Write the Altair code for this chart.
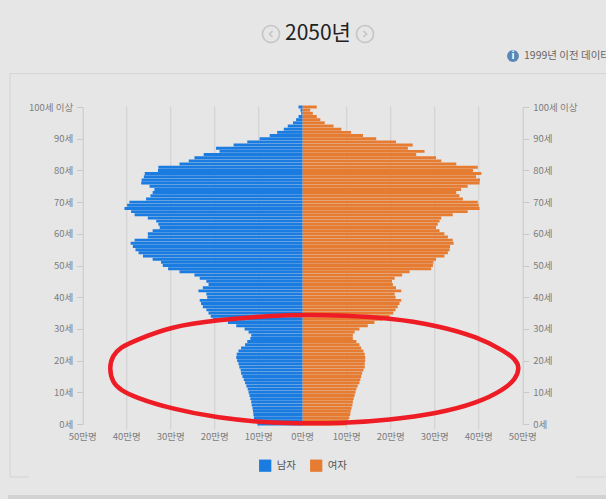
import altair as alt
import pandas as pd

FONT = "Noto Sans CJK KR"
BG = "#e6e6e6"

ages = list(range(100, -1, -1))
male = [0.95,0.5,0.35,0.95,1.5,2.2,3.4,4.3,5.8,7.5,
        9.8,12.6,15.7,19.7,18.9,22.5,24.6,25.9,28.0,32.8,
        32.9,35.9,36.1,36.6,36.7,34.8,33.7,34.1,34.6,35.6,
        39.4,39.9,40.5,39.0,38.2,35.2,33.3,32.8,32.5,34.1,
        35.2,35.2,38.2,39.1,38.6,38.0,37.3,36.3,34.1,32.2,
        31.8,30.6,28.0,24.6,23.4,21.9,21.4,22.7,23.7,21.9,
        21.7,23.4,23.1,22.7,21.9,21.4,20.9,20.4,17.0,15.1,
        13.2,12.3,11.7,11.9,12.6,13.1,14.0,14.6,15.0,15.1,
        14.9,14.6,14.4,14.1,14.0,13.7,13.4,13.1,12.8,12.5,
        12.3,12.1,11.9,11.7,11.6,11.4,11.3,11.2,11.1,11.0,
        10.3]
female = [3.2,1.7,2.3,3.2,4.0,5.0,7.0,8.8,11.0,13.7,
          16.7,21.2,25.0,23.9,27.7,25.8,30.3,31.5,34.9,39.8,
          38.7,40.6,39.4,40.3,40.2,37.5,36.0,34.9,35.6,36.4,
          39.8,40.0,40.2,37.5,34.1,31.5,31.1,30.7,30.3,31.1,
          32.2,33.0,34.1,34.3,33.5,33.4,33.0,32.2,30.3,29.7,
          29.6,29.2,24.3,22.6,20.9,20.3,20.5,21.2,22.4,20.9,
          21.1,22.4,22.0,21.6,21.1,20.6,19.7,18.2,16.3,14.8,
          12.9,11.8,11.4,11.4,12.2,12.9,13.3,13.8,14.1,14.2,
          14.2,14.1,14.1,13.8,13.5,13.3,13.1,12.9,12.5,12.2,
          12.0,11.8,11.6,11.4,11.3,11.1,10.9,10.8,10.6,10.3,
          9.9]
ring_x = [-44.0,-43.2,-41.4,-38.3,-29.9,-19.2,-7.8,1.9,9.0,19.7,30.3,39.9,45.8,48.4,
          49.3,48.4,45.8,39.9,30.3,19.7,9.2,-1.5,-7.8,-19.2,-29.9,-38.3,-41.4,-43.2]
ring_y = [17.7,21.6,24.2,26.2,30.8,32.8,34.2,34.5,34.2,33.4,31.2,27.4,23.0,20.4,
          17.7,14.2,10.9,6.7,3.2,1.3,0.2,0.2,0.4,1.9,4.8,8.5,10.8,13.0]
x_ticks = [-50,-40,-30,-20,-10,0,10,20,30,40,50]
x_labels = ["50만명","40만명","30만명","20만명","10만명","0만명","10만명","20만명","30만명","40만명","50만명"]
grid_ticks = [-40,-30,-20,-10,10,20,30,40]
y_ticks = list(range(0, 101, 10))
series = ["남자", "여자"]
colors = ["#1a7be0", "#e67c32"]

df_m = pd.DataFrame({"age": ages, "v": [-m for m in male], "sex": series[0]})
df_f = pd.DataFrame({"age": ages, "v": female, "sex": series[1]})
df_r = pd.DataFrame({"x": ring_x, "y": ring_y, "o": list(range(len(ring_x)))})
df_t = pd.DataFrame({"x": x_ticks, "label": x_labels})
df_g = pd.DataFrame({"x": grid_ticks})

x_scale = alt.Scale(domain=[-50, 50], nice=False, padding=0)
y_scale = alt.Scale(domain=[0, 100], nice=False, padding=0)
def y_axis(orient):
    return alt.Axis(orient=orient, values=y_ticks, title=None, grid=False,
                    labelExpr="datum.value == 100 ? '100세 이상' : datum.value + '세'",
                    domainColor="#c8c8c8", tickColor="#c8c8c8", tickSize=6, labelPadding=4,
                    labelFontSize=9.5, labelColor="#7d7d7d", labelFont=FONT)

color = alt.Color("sex:N", scale=alt.Scale(domain=series, range=colors),
                  legend=alt.Legend(orient="none", legendX=176, legendY=352, direction="horizontal",
                                    title=None, symbolType="square", symbolSize=150, symbolStrokeWidth=0,
                                    labelFont=FONT, labelFontSize=10.5, labelColor="#555555",
                                    columnPadding=13, labelOffset=5))

grid = alt.Chart(df_g).mark_rule(color="#d2d2d2", strokeWidth=1.2).encode(
    x=alt.X("x:Q", scale=x_scale, axis=None), y=alt.value(0), y2=alt.value(322))
x_text = alt.Chart(df_t).mark_text(font=FONT, fontSize=9.5, color="#7d7d7d", baseline="middle").encode(
    x=alt.X("x:Q", scale=x_scale, axis=None), y=alt.value(330), text="label:N")
bars_m = alt.Chart(df_m).mark_bar(size=2.95, orient="horizontal").encode(
    x=alt.X("v:Q", scale=x_scale, axis=None), x2=alt.value(220),
    y=alt.Y("age:Q", scale=y_scale, axis=y_axis("left")), color=color)
bars_f = alt.Chart(df_f).mark_bar(size=2.95, orient="horizontal").encode(
    x=alt.X("v:Q", scale=x_scale, axis=None), x2=alt.value(220),
    y=alt.Y("age:Q", scale=y_scale, axis=y_axis("right")), color=color)
ring = alt.Chart(df_r).mark_line(interpolate="basis-closed", color="#ee1c25", strokeWidth=4.5).encode(
    x=alt.X("x:Q", scale=x_scale, axis=None), y=alt.Y("y:Q", scale=y_scale, axis=None), order="o:Q")

def hline(x1, x2, y, color="#d6d6d6", w=1.2):
    return alt.Chart(pd.DataFrame({"a": [0]})).mark_rule(color=color, strokeWidth=w).encode(
        x=alt.value(x1), x2=alt.value(x2), y=alt.value(y))

def text(s, x, y, size, color, align="left", weight=400):
    return alt.Chart(pd.DataFrame({"t": [s]})).mark_text(
        font=FONT, fontSize=size, color=color, align=align, baseline="middle", fontWeight=weight
    ).encode(x=alt.value(x), y=alt.value(y), text="t:N")

def pt(x, y, size, shape="circle", **kw):
    return alt.Chart(pd.DataFrame({"a": [0]})).mark_point(shape=shape, size=size, **kw).encode(
        x=alt.value(x), y=alt.value(y))

ox, oy = 82.7, 107
frame = [
    hline(10 - ox, 610 - ox, 73.5 - oy),
    alt.Chart(pd.DataFrame({"a": [0]})).mark_rule(color="#d6d6d6", strokeWidth=1.2).encode(
        x=alt.value(10 - ox), y=alt.value(73.5 - oy), y2=alt.value(477 - oy)),
    hline(10 - ox, 29 - ox, 477 - oy),
    hline(576 - ox, 610 - ox, 477 - oy),
    hline(8 - ox, 610 - ox, 497 - oy, color="#d2d2d2", w=4),
]
deco = [
    text("2050년", 285 - ox, 33.5 - oy, 21, "#222222"),
    pt(271 - ox, 34 - oy, 290, filled=False, stroke="#b8b8b8", strokeWidth=1.6),
    pt(271 - ox, 34 - oy, 100, shape="M0.3,-0.6L-0.3,0L0.3,0.6", filled=False, stroke="#b8b8b8", strokeWidth=1.6),
    pt(365 - ox, 34 - oy, 290, filled=False, stroke="#b8b8b8", strokeWidth=1.6),
    pt(365 - ox, 34 - oy, 100, shape="M-0.3,-0.6L0.3,0L-0.3,0.6", filled=False, stroke="#b8b8b8", strokeWidth=1.6),
    pt(513 - ox, 56 - oy, 140, filled=True, color="#5b86b8", opacity=1),
    text("i", 513 - ox, 56 - oy, 10, "#ffffff", align="center", weight=700),
    text("1999년 이전 데이터", 524 - ox, 56 - oy, 10.5, "#666666"),
]

chart = alt.layer(*frame, grid, x_text, bars_m, bars_f, ring, *deco).resolve_scale(y="independent").properties(
    width=440, height=317, background=BG,
    padding={"left": 74.7, "top": 99, "right": 83.3, "bottom": 75},
    autosize=alt.AutoSizeParams(type="none"),
).configure_view(stroke=None)

chart.save("out.html", embed_options={"renderer": "svg", "actions": False,
    "defaultStyle": "html,body{background:#e6e6e6;overflow:hidden}body{margin-right:0}svg{max-width:none!important}"})
